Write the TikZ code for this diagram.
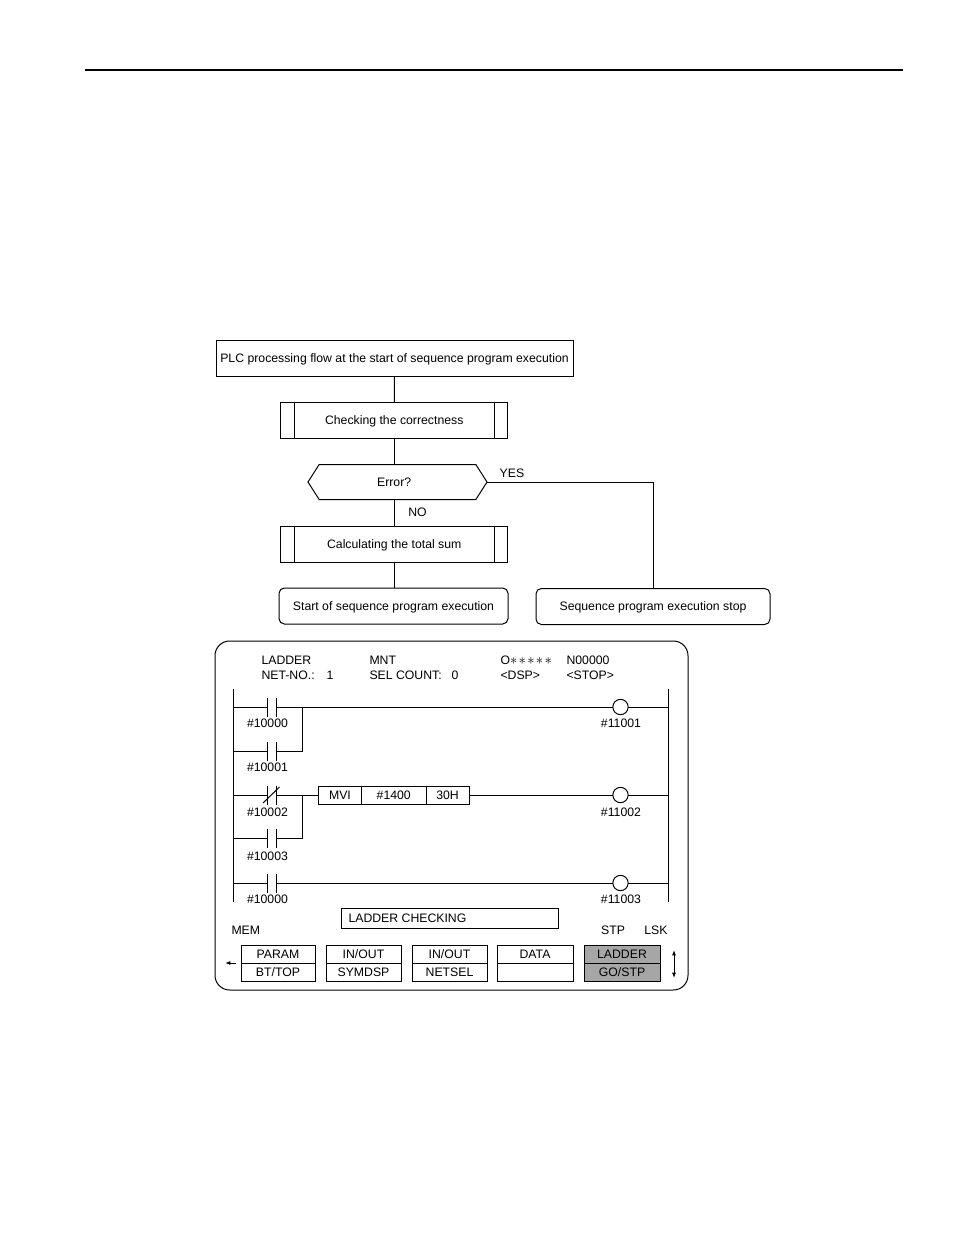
\documentclass[tikz,border=0pt]{standalone}
\usepackage{fontspec}
\setmainfont{Liberation Sans}
\usetikzlibrary{arrows.meta,shapes.symbols,calc,positioning}

\newcommand{\astk}{{\fontsize{11}{11}\selectfont$\ast$}\kern1pt}

\tikzset{
  every path/.style={line width=0.75pt},
  txt/.style={inner sep=0pt, font=\fontsize{9.2}{10}\selectfont},
  box/.style={draw, outer sep=0pt, inner sep=0pt, text height=7pt, text depth=1pt, font=\fontsize{9.2}{10}\selectfont},
  procbox/.style={box, minimum width=170pt, minimum height=27pt,
    path picture={
      \draw ([xshift=10pt]path picture bounding box.north west) -- ([xshift=10pt]path picture bounding box.south west);
      \draw ([xshift=-10pt]path picture bounding box.north east) -- ([xshift=-10pt]path picture bounding box.south east);
    }},
  endbox/.style={box, rounded corners=4pt, minimum height=27pt},
  contact/.style={minimum width=6.75pt, minimum height=14.25pt, inner sep=0pt, outer sep=0pt},
  coil/.style={circle, draw, minimum width=11.5pt, inner sep=0pt, outer sep=0pt},
  cell/.style={box, minimum height=13.5pt},
  softkey/.style={box, minimum height=13.5pt, minimum width=56pt},
}

\begin{document}
\begin{tikzpicture}[x=0.75pt,y=-0.75pt]
  \useasboundingbox (0,0) rectangle (954,1235);

  % page rule
  \coordinate (ruleL) at (85,70);
  \coordinate (ruleR) at (903,70);
  \draw[line width=1.3pt] (ruleL) -- (ruleR);

  % flow chart
  \node[box, minimum width=267.75pt, minimum height=27pt] (title) at (394.5,358) {PLC processing flow at the start of sequence program execution};
  \node[procbox] (check) at (394.25,420) {Checking the correctness};
  \node[box, shape=signal, signal from=nowhere, signal to=east and west, signal pointer angle=115,
    minimum width=134.25pt, minimum height=26.25pt] (error) at (397.5,482) {\hspace{-5pt}Error?};
  \node[procbox] (total) at (394.25,544) {Calculating the total sum};
  \node[endbox, minimum width=171.75pt] (start) at (393.5,606) {Start of sequence program execution};
  \node[endbox, minimum width=175.5pt] (stop) at (653,606.5) {Sequence program execution stop};

  \node[txt] (yes) at (512,473.5) {YES};
  \node[txt] (no) at (417.5,512.5) {NO};

  \draw (title) -- (check);
  \draw (check) -- (check |- error.north);
  \draw (check |- error.south) -- (total);
  \draw (total) -- (start.north -| total);
  \draw (error.east) -| (stop.north);

  % display panel
  \node[draw, rounded corners=11pt, minimum width=354.75pt, minimum height=261.75pt, inner sep=0pt] (panel) at (451.5,815.5) {};

  \node[txt, anchor=west] (h1) at (261,660.5) {LADDER};
  \node[txt, anchor=west] (h2) at (261,675.5) {NET-NO.:};
  \node[txt, anchor=west] (h3) at (326,675.5) {1};
  \node[txt, anchor=west] (h4) at (369,660.5) {MNT};
  \node[txt, anchor=west] (h5) at (369,675.5) {SEL COUNT:};
  \node[txt, anchor=west] (h6) at (451,675.5) {0};
  \node[txt, anchor=west] (h7) at (500,660.5) {O\astk\astk\astk\astk\astk};
  \node[txt, anchor=west] (h8) at (500,675.5) {<DSP>};
  \node[txt, anchor=west] (h9) at (566,660.5) {N00000};
  \node[txt, anchor=west] (h10) at (566,675.5) {<STOP>};

  % ladder rails
  \coordinate (railLT) at (233.5,689);
  \coordinate (railLB) at (233.5,902);
  \coordinate (railRT) at (668,689);
  \coordinate (railRB) at (668,902);
  \draw (railLT) -- (railLB);
  \draw (railRT) -- (railRB);

  % contacts
  \foreach \name/\yy/\ly/\lbl in {c1/707/723.5/10000, c2/751/767.5/10001, c3/795/812.5/10002, c4/838/856/10003, c5/883/899.5/10000} {
    \node[contact] (\name) at (271.5,\yy) {};
    \draw (\name.north west) -- (\name.south west);
    \draw (\name.north east) -- (\name.south east);
    \node[txt] (\name lbl) at (267.5,\ly) {\#\lbl};
    \draw (railLT |- \name) -- (\name.west);
  }
  \draw ($(c3)+(-8.5,8)$) -- ($(c3)+(8,-8)$);

  % coils
  \foreach \name/\yy/\ly/\lbl in {o1/707/723.5/11001, o2/795/812.5/11002, o3/883/899.5/11003} {
    \node[coil] (\name) at (620.5,\yy) {};
    \node[txt] (\name lbl) at (621,\ly) {\#\lbl};
    \draw (\name.east) -- (railRT |- \name);
  }

  % function box
  \node[cell, minimum width=32.25pt] (mvi) at (340,795) {MVI};
  \node[cell, minimum width=48.75pt] (addr) at (393.75,795) {\#1400};
  \node[cell, minimum width=32.25pt] (val) at (447.5,795) {30H};

  % wiring
  \coordinate (j1) at (302,707);
  \coordinate (j2) at (302,795);
  \draw (c1.east) -- (o1.west);
  \draw (c2.east) -| (j1);
  \draw (c3.east) -- (mvi.west);
  \draw (c4.east) -| (j2);
  \draw (val.east) -- (o2.west);
  \draw (c5.east) -- (o3.west);

  % bottom of the screen
  \node[box, minimum width=162.75pt, minimum height=15pt] (msg) at (449.5,918) {};
  \node[txt, anchor=west] (msgtxt) at (348,918.5) {LADDER CHECKING};
  \node[txt, anchor=west] (mem) at (231,930.5) {MEM};
  \node[txt] (stp) at (613,930.5) {STP};
  \node[txt] (lsk) at (656,930.5) {LSK};

  \foreach \i/\xx/\keyw/\ka/\kb in {1/278/55.5/PARAM/BT\slash TOP, 2/363.5/56.25/IN\slash OUT/SYMDSP, 3/449.5/56.25/IN\slash OUT/NETSEL, 4/535/57/DATA/{}} {
    \node[softkey, minimum width=\keyw pt] (key\i a) at (\xx,954) {\ka};
    \node[softkey, minimum width=\keyw pt] (key\i b) at (\xx,972) {\kb};
  }
  \node[softkey, fill=black!35, minimum width=57pt] (key5a) at (622,954) {LADDER};
  \node[softkey, fill=black!35, minimum width=57pt] (key5b) at (622,972) {GO/STP};

  % scroll arrows
  \coordinate (backR) at (236,963);
  \coordinate (backL) at (225,963);
  \draw[-{Latex[length=4pt,width=3pt]}] (backR) -- (backL);
  \coordinate (scrollT) at (674,950);
  \coordinate (scrollB) at (674,978);
  \draw[{Latex[length=4pt,width=3pt]}-{Latex[length=4pt,width=3pt]}] (scrollT) -- (scrollB);
\end{tikzpicture}
\end{document}
